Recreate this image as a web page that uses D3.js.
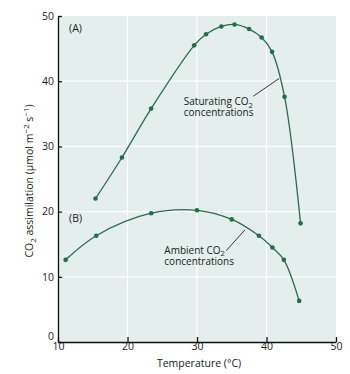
<!DOCTYPE html>
<html>
<head>
<meta charset="utf-8">
<script src="https://cdn.jsdelivr.net/npm/d3@7"></script>
<style>
    body { margin: 0; background: #fff; }
    text { font-family: "Open Sans", sans-serif; fill: #1a1a1a; }
    .axis path, .axis line { stroke: #111; stroke-width: 1.3; }
    .axis text { font-size: 10.5px; }
</style>
</head>
<body>
<svg id="chart"></svg>
<script>
// (A) saturating CO2
var tempA = [15.4, 19.2, 23.4, 29.6, 31.3, 33.5, 35.4, 37.5, 39.3, 40.8, 42.6, 44.9];
var assimA = [22.0, 28.3, 35.8, 45.5, 47.2, 48.4, 48.7, 48.0, 46.7, 44.5, 37.6, 18.2];
// (B) ambient CO2
var tempB = [11.1, 15.5, 23.4, 30.0, 35.0, 38.9, 40.85, 42.5, 44.7];
var assimB = [12.6, 16.3, 19.75, 20.2, 18.8, 16.3, 14.5, 12.6, 6.3];

var xTicks = [10, 20, 30, 40, 50];
var yTicks = [0, 10, 20, 30, 40, 50];

var width = 350, height = 374;
var svg = d3.select("#chart").attr("width", width).attr("height", height);

var x = d3.scaleLinear().domain([10, 50]).range([58, 336]);
var y = d3.scaleLinear().domain([0, 50]).range([342, 16]);

// plot background
svg.append("rect")
    .attr("x", x(10)).attr("y", y(50))
    .attr("width", x(50) - x(10)).attr("height", y(0) - y(50))
    .style("fill", "#e3eeed");

// white grid lines
var grid = svg.append("g");
grid.selectAll(".vg").data(xTicks.slice(1, -1)).enter().append("line")
    .attr("x1", function(d) { return x(d); }).attr("x2", function(d) { return x(d); })
    .attr("y1", y(0)).attr("y2", y(50))
    .style("stroke", "#fff").style("stroke-width", 1.2);
grid.selectAll(".hg").data(yTicks.slice(1, -1)).enter().append("line")
    .attr("x1", x(10)).attr("x2", x(50))
    .attr("y1", function(d) { return y(d); }).attr("y2", function(d) { return y(d); })
    .style("stroke", "#fff").style("stroke-width", 1.2);

// axes, ticks point inward
svg.append("g").attr("class", "axis")
    .attr("transform", "translate(0," + y(0) + ")")
    .call(d3.axisBottom(x).tickValues(xTicks).tickSize(-5).tickSizeOuter(0).tickPadding(1));
var yAxis = svg.append("g").attr("class", "axis")
    .attr("transform", "translate(" + x(10) + ",0)")
    .call(d3.axisLeft(y).tickValues(yTicks).tickSize(-4).tickSizeOuter(0).tickPadding(4));
// lift the 0 label clear of the x-axis labels, as in the original
yAxis.selectAll(".tick text").filter(function(d) { return d === 0; }).attr("y", -6);

// curves
var line = d3.line()
    .x(function(d) { return x(d[0]); })
    .y(function(d) { return y(d[1]); })
    .curve(d3.curveCatmullRom.alpha(0.5));

var series = [d3.zip(tempA, assimA), d3.zip(tempB, assimB)];

series.forEach(function(pts) {
    svg.append("path")
        .datum(pts)
        .attr("d", line)
        .style("fill", "none")
        .style("stroke", "#2d6a50")
        .style("stroke-width", 1.3);
    svg.selectAll(null).data(pts).enter().append("circle")
        .attr("cx", function(d) { return x(d[0]); })
        .attr("cy", function(d) { return y(d[1]); })
        .attr("r", 2.3)
        .style("fill", "#1d7048");
});

// panel letters
svg.append("text").attr("x", x(11.6)).attr("y", y(47.5)).style("font-size", "10.5px").text("(A)");
svg.append("text").attr("x", x(11.6)).attr("y", y(18.4)).style("font-size", "10.5px").text("(B)");

// annotations with leader lines (two lines in one text element)
function note(tx, ty, first, l1, l2) {
    var t = svg.append("text").attr("x", x(tx)).attr("y", y(ty)).style("font-size", "10px");
    t.append("tspan").text(first + " CO");
    t.append("tspan").attr("dy", 2.5).style("font-size", "7.5px").text("2");
    t.append("tspan").attr("x", x(tx)).attr("dy", 8.5).text("concentrations");
    svg.append("line")
        .attr("x1", x(l1[0])).attr("y1", y(l1[1]))
        .attr("x2", x(l2[0])).attr("y2", y(l2[1]))
        .style("stroke", "#222").style("stroke-width", 0.9);
}
note(28.1, 36.3, "Saturating", [38.1, 37.7], [41.8, 40.4]);
note(25.3, 13.5, "Ambient", [34.2, 14.0], [36.9, 17.2]);

// axis titles
svg.append("text")
    .attr("x", (x(10) + x(50)) / 2 + 2).attr("y", 367)
    .style("font-size", "10.5px").style("text-anchor", "middle")
    .text("Temperature (\u00b0C)");

var yl = svg.append("text")
    .attr("transform", "translate(33," + 181 + ") rotate(-90)")
    .style("font-size", "10.5px").style("text-anchor", "middle");
yl.append("tspan").text("CO");
yl.append("tspan").attr("dy", 3).style("font-size", "8px").text("2");
yl.append("tspan").attr("dy", -3).text(" assimilation (\u00b5mol m");
yl.append("tspan").attr("dy", -4).style("font-size", "8px").text("\u22122");
yl.append("tspan").attr("dy", 4).text(" s");
yl.append("tspan").attr("dy", -4).style("font-size", "8px").text("\u22121");
yl.append("tspan").attr("dy", 4).text(")");
</script>
</body>
</html>
